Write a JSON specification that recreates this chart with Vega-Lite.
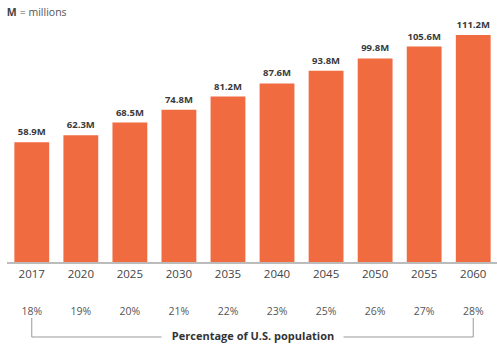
{
  "$schema": "https://vega.github.io/schema/vega-lite/v6.json",
  "autosize": {"type": "none"},
  "padding": {"left": 7, "top": 17, "right": 0, "bottom": 0},
  "width": 491,
  "height": 328,
  "background": "white",
  "config": {"view": {"stroke": null}, "font": "Open Sans"},
  "data": {"values": [
    {"year": "2017", "pop": 58.9, "label": "58.9M", "pct": "18%"},
    {"year": "2020", "pop": 62.3, "label": "62.3M", "pct": "19%"},
    {"year": "2025", "pop": 68.5, "label": "68.5M", "pct": "20%"},
    {"year": "2030", "pop": 74.8, "label": "74.8M", "pct": "21%"},
    {"year": "2035", "pop": 81.2, "label": "81.2M", "pct": "22%"},
    {"year": "2040", "pop": 87.6, "label": "87.6M", "pct": "23%"},
    {"year": "2045", "pop": 93.8, "label": "93.8M", "pct": "25%"},
    {"year": "2050", "pop": 99.8, "label": "99.8M", "pct": "26%"},
    {"year": "2055", "pop": 105.6, "label": "105.6M", "pct": "27%"},
    {"year": "2060", "pop": 111.2, "label": "111.2M", "pct": "28%"}
  ]},
  "encoding": {
    "x": {"field": "year", "type": "ordinal", "axis": null,
          "scale": {"paddingInner": 0.29, "paddingOuter": 0.15}}
  },
  "layer": [
    {
      "mark": {"type": "bar", "color": "#F06B3F"},
      "encoding": {
        "y": {"field": "pop", "type": "quantitative", "axis": null,
              "scale": {"domain": [-40, 120], "nice": false, "zero": false}}
      }
    },
    {
      "mark": {"type": "rule", "color": "#bbbbbb", "strokeWidth": 1},
      "encoding": {"y": {"datum": 0}, "x": {"value": 0}, "x2": {"value": 491}}
    },
    {
      "mark": {"type": "text", "fontWeight": "bold", "fontSize": 9.5, "color": "#3a3a3a", "baseline": "bottom", "dy": -5},
      "encoding": {"y": {"field": "pop", "type": "quantitative"}, "text": {"field": "label"}}
    },
    {
      "mark": {"type": "text", "fontSize": 11.5, "color": "#444444", "baseline": "middle"},
      "encoding": {"y": {"datum": -5.9}, "text": {"field": "year"}}
    },
    {
      "mark": {"type": "text", "fontSize": 10.5, "color": "#555555", "baseline": "middle"},
      "encoding": {"y": {"datum": -23.9}, "text": {"field": "pct"}}
    },
    {
      "data": {"values": [{"yr": "2017"}, {"yr": "2060"}]},
      "mark": {"type": "rule", "color": "#999999", "strokeWidth": 1},
      "encoding": {
        "x": {"field": "yr", "type": "ordinal"},
        "y": {"datum": -26.8},
        "y2": {"datum": -36.1}
      }
    },
    {
      "data": {"values": [{"a": "2017", "b": "2030"}]},
      "mark": {"type": "rule", "color": "#999999", "strokeWidth": 1},
      "encoding": {
        "x": {"field": "a", "type": "ordinal"},
        "x2": {"field": "b", "bandPosition": 0},
        "y": {"datum": -36.1}
      }
    },
    {
      "data": {"values": [{"a": "2045", "b": "2060"}]},
      "mark": {"type": "rule", "color": "#999999", "strokeWidth": 1},
      "encoding": {
        "x": {"field": "a", "type": "ordinal", "bandPosition": 1},
        "x2": {"field": "b"},
        "y": {"datum": -36.1}
      }
    },
    {
      "data": {"values": [{"t": "Percentage of U.S. population", "yr": "2040"}]},
      "mark": {"type": "text", "fontWeight": "bold", "fontSize": 11, "color": "#333333", "baseline": "middle", "dx": -24},
      "encoding": {"x": {"field": "yr", "type": "ordinal"}, "y": {"datum": -36.1}, "text": {"field": "t"}}
    },
    {
      "data": {"values": [{"t": "M", "yr": "2017"}]},
      "mark": {"type": "text", "fontWeight": "bold", "fontSize": 10.5, "color": "#444444", "baseline": "middle", "align": "left", "dx": -25},
      "encoding": {"x": {"field": "yr", "type": "ordinal"}, "y": {"datum": 122}, "text": {"field": "t"}}
    },
    {
      "data": {"values": [{"t": "= millions", "yr": "2017"}]},
      "mark": {"type": "text", "fontSize": 10.5, "color": "#555555", "baseline": "middle", "align": "left", "dx": -12},
      "encoding": {"x": {"field": "yr", "type": "ordinal"}, "y": {"datum": 122}, "text": {"field": "t"}}
    }
  ]
}
